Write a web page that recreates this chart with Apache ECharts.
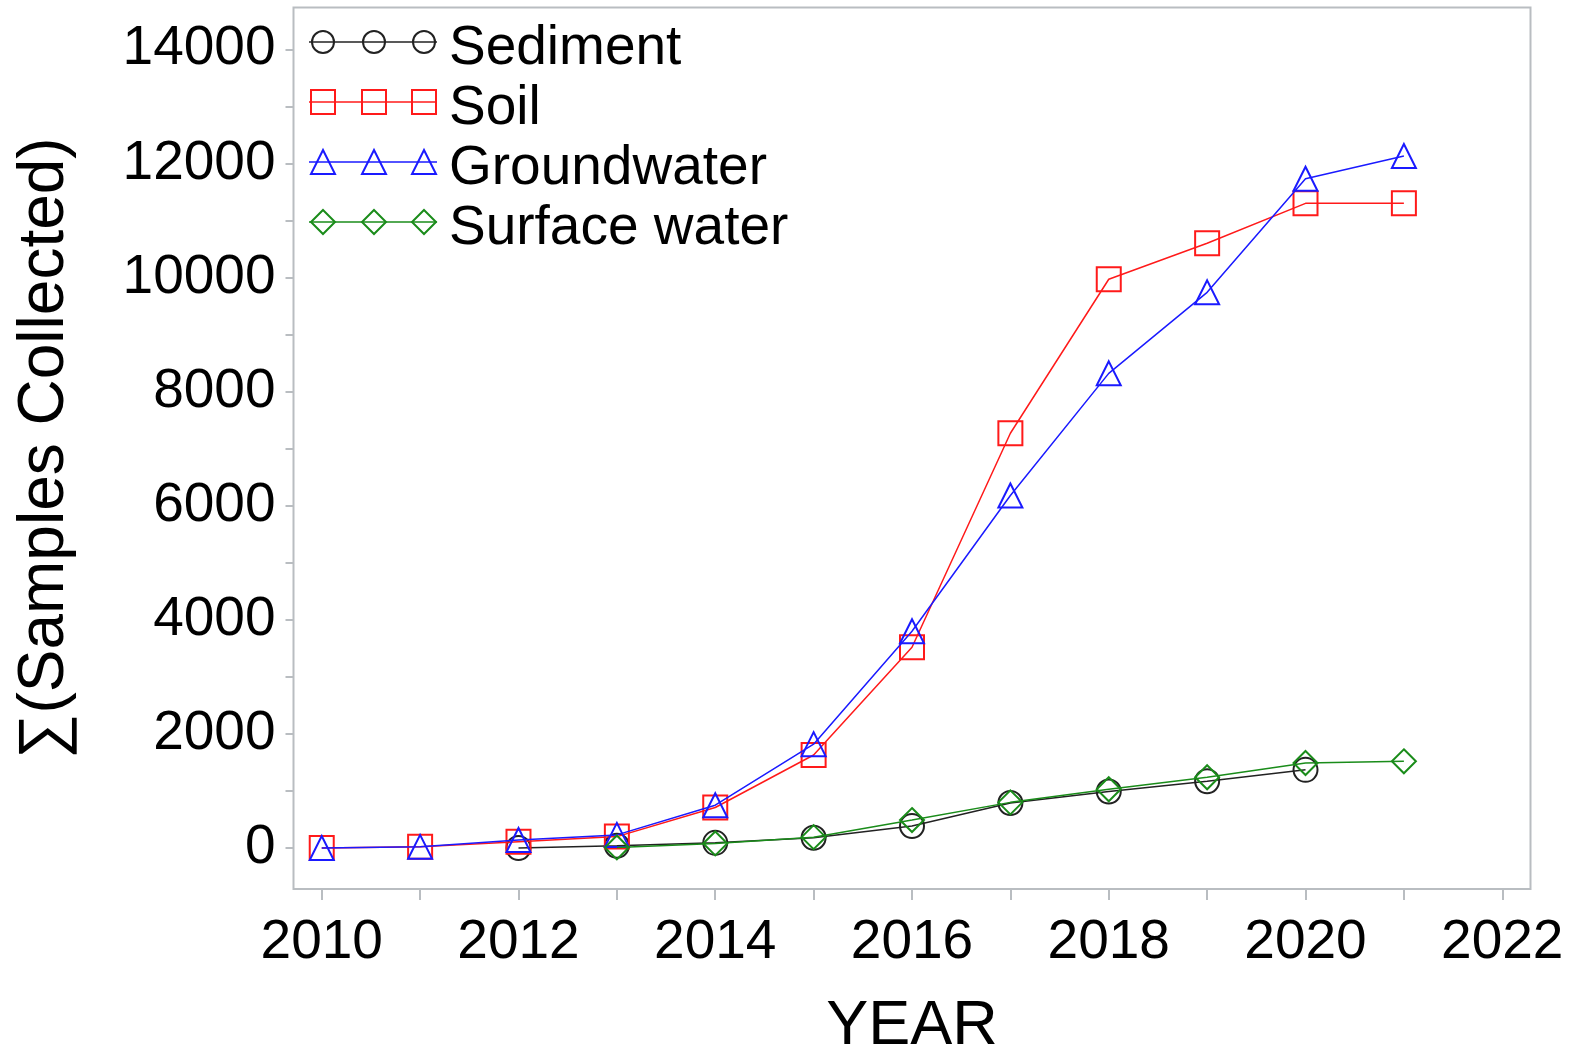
<!DOCTYPE html>
<html>
<head>
<meta charset="utf-8">
<script src="https://cdn.jsdelivr.net/npm/echarts@6/dist/echarts.min.js"></script>
<style>
  html, body { margin: 0; padding: 0; background: #fff; }
  #chart { width: 1576px; height: 1051px; }
</style>
</head>
<body>
<div id="chart"></div>
<script>
// data
var years = [2010, 2011, 2012, 2013, 2014, 2015, 2016, 2017, 2018, 2019, 2020, 2021];
var sediment = [null, null, 0, 40, 90, 180, 385, 790, 990, 1170, 1370, null];
var soil = [0, 20, 110, 200, 710, 1630, 3520, 7270, 9970, 10600, 11300, 11300];
var groundwater = [0, 20, 140, 230, 750, 1820, 3800, 6180, 8320, 9740, 11730, 12130];
var surfaceWater = [null, null, null, 10, 80, 190, 490, 800, 1030, 1240, 1490, 1520];

var seriesNames = ['Sediment', 'Soil', 'Groundwater', 'Surface water'];
var xTicks = [2010, 2011, 2012, 2013, 2014, 2015, 2016, 2017, 2018, 2019, 2020, 2021, 2022];
var xLabels = [2010, 2012, 2014, 2016, 2018, 2020, 2022];
var yTicks = [0, 1000, 2000, 3000, 4000, 5000, 6000, 7000, 8000, 9000, 10000, 11000, 12000, 13000, 14000];
var yLabels = [0, 2000, 4000, 6000, 8000, 10000, 12000, 14000];

var colors = ['#222222', '#ff1a1a', '#1a1aff', '#1a8c1a'];
var symbols = ['circle', 'rect', 'triangle', 'diamond'];
var font = 'Liberation Sans, Arial, sans-serif';
var axisGray = '#b9bdc1';

function pairs(arr) {
    var out = [];
    arr.forEach(function (v, i) {
        if (v !== null) out.push([years[i], v]);
    });
    return out;
}

var allData = [sediment, soil, groundwater, surfaceWater];
var series = allData.map(function (arr, i) {
    return {
        name: seriesNames[i],
        type: 'line',
        data: pairs(arr),
        symbol: symbols[i],
        symbolSize: 24,
        showAllSymbol: true,
        lineStyle: { color: colors[i], width: 1.5 },
        itemStyle: { color: 'transparent', borderColor: colors[i], borderWidth: 2 },
        emphasis: { disabled: true },
        animation: false,
        z: 2 + i
    };
});

// legend drawn by hand: three markers on a line, like the original
var legendItems = [];
seriesNames.forEach(function (name, i) {
    var cy = 42 + i * 60;
    var kids = [{
        type: 'line',
        shape: { x1: 309, y1: cy, x2: 437, y2: cy },
        style: { stroke: colors[i], lineWidth: 1.5 }
    }];
    [323, 374, 424].forEach(function (cx) {
        var st = { fill: 'transparent', stroke: colors[i], lineWidth: 2 };
        if (symbols[i] === 'circle') {
            kids.push({ type: 'circle', shape: { cx: cx, cy: cy, r: 11 }, style: st });
        } else if (symbols[i] === 'rect') {
            kids.push({ type: 'rect', shape: { x: cx - 12, y: cy - 12, width: 24, height: 24 }, style: st });
        } else if (symbols[i] === 'triangle') {
            kids.push({ type: 'polygon', shape: { points: [[cx, cy - 12], [cx + 12, cy + 12], [cx - 12, cy + 12]] }, style: st });
        } else {
            kids.push({ type: 'polygon', shape: { points: [[cx, cy - 12], [cx + 12, cy], [cx, cy + 12], [cx - 12, cy]] }, style: st });
        }
    });
    kids.push({
        type: 'text',
        x: 449,
        y: cy + 7,
        style: {
            text: name,
            fill: '#000',
            font: '55px ' + font,
            textAlign: 'left',
            textVerticalAlign: 'middle',
            align: 'left',
            verticalAlign: 'middle'
        }
    });
    legendItems.push({ type: 'group', children: kids, z: 100 });
});

var chart = echarts.init(document.getElementById('chart'));
var option = {
    backgroundColor: '#fff',
    animation: false,
    grid: {
        left: 293.5,
        right: 45.5,
        top: 7.5,
        bottom: 162,
        outerBoundsMode: 'none',
        containLabel: false,
        show: true,
        borderColor: axisGray,
        borderWidth: 2,
        backgroundColor: 'transparent'
    },
    xAxis: {
        type: 'value',
        min: 2009.713,
        max: 2022.287,
        name: 'YEAR',
        nameLocation: 'middle',
        nameGap: 106,
        nameTextStyle: { fontFamily: font, fontSize: 63, color: '#000' },
        axisLine: { show: false, onZero: false },
        axisTick: {
            show: true,
            inside: false,
            customValues: xTicks,
            length: 11,
            lineStyle: { color: axisGray, width: 2 }
        },
        axisLabel: {
            customValues: xLabels,
            margin: 26,
            fontFamily: font,
            fontSize: 55,
            color: '#000',
            formatter: function (v) { return String(v); }
        },
        splitLine: { show: false }
    },
    yAxis: {
        type: 'value',
        min: -718.6,
        max: 14733,
        name: '\u2211(Samples Collected)',
        nameLocation: 'middle',
        nameGap: 216,
        nameTextStyle: { fontFamily: font, fontSize: 64, color: '#000' },
        axisLine: { show: false, onZero: false },
        axisTick: {
            show: true,
            inside: false,
            customValues: yTicks,
            length: 8,
            lineStyle: { color: axisGray, width: 2 }
        },
        axisLabel: {
            customValues: yLabels,
            margin: 18,
            fontFamily: font,
            fontSize: 55,
            color: '#000',
            formatter: function (v) { return String(v); }
        },
        splitLine: { show: false }
    },
    graphic: legendItems,
    series: series
};
chart.setOption(option);
</script>
</body>
</html>
